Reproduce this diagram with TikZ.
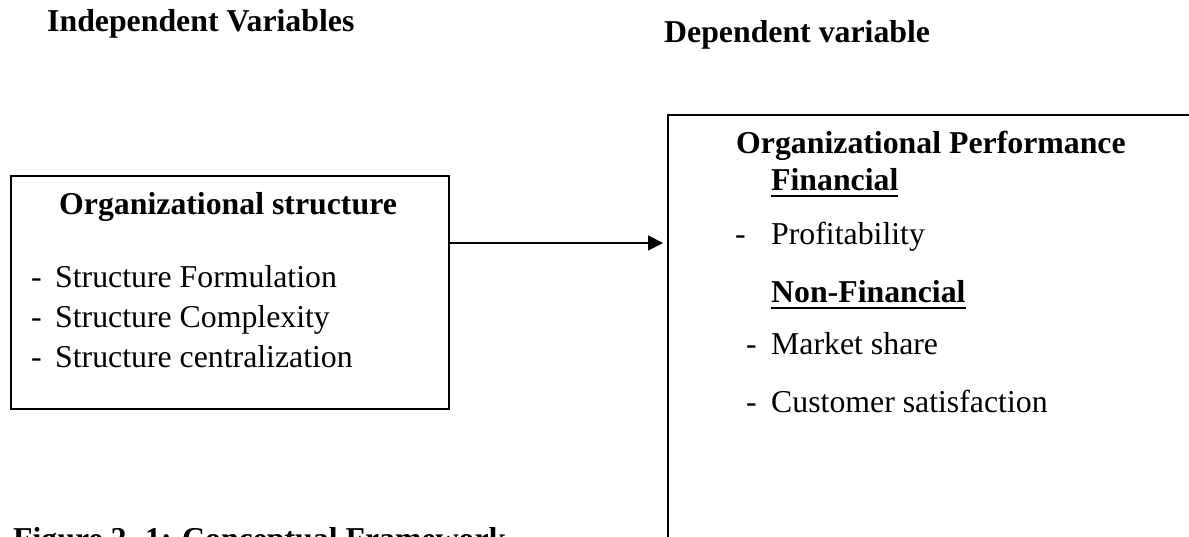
\documentclass[tikz,border=0pt]{standalone}
\usepackage{fontspec}
\setmainfont{Liberation Serif}
\usetikzlibrary{arrows.meta}
\newcommand\myul[1]{\setbox0\hbox{#1}\rlap{\rule[-6pt]{\wd0}{2pt}}\box0}
\tikzset{
  txt/.style={anchor=base west, inner sep=0pt, font=\fontsize{31.8}{38}\selectfont},
  btxt/.style={txt, font=\fontsize{31.8}{38}\selectfont\bfseries},
  boxshape/.style={draw, line width=1.8pt, anchor=north west, inner sep=0pt},
  link/.style={line width=1.8pt, -{Triangle[length=15pt,width=15pt]}, shorten >=4pt}
}
\begin{document}
\begin{tikzpicture}[x=1pt,y=-1pt]
\useasboundingbox (0,0) rectangle (1189,537);
\clip (0,0) rectangle (1189,537);
% headers
\node[btxt] (hind) at (47,32) {Independent Variables};
\node[btxt] (hdep) at (664,43) {Dependent variable};
% boxes
\node[boxshape, minimum width=438pt, minimum height=233pt] (lbox) at (10,175) {};
\node[boxshape, minimum width=580pt, minimum height=480pt] (rbox) at (667,114) {};
% left box text
\node[btxt] (ltitle) at (59,215) {Organizational structure};
\node[txt] (l1) at (31,288) {\makebox[24pt][l]{-}Structure Formulation};
\node[txt] (l2) at (31,327) {\makebox[24pt][l]{-}Structure Complexity};
\node[txt] (l3) at (31,367) {\makebox[24pt][l]{-}Structure centralization};
% right box text
\node[btxt] (rtitle) at (736,154) {Organizational Performance};
\node[btxt] (fin) at (771,191) {\myul{Financial}};
\node[txt] (r1) at (735,245) {\makebox[36pt][l]{-}Profitability};
\node[btxt] (nfin) at (771,303) {\myul{Non-Financial}};
\node[txt] (r2) at (746,355) {\makebox[25pt][l]{-}Market share};
\node[txt] (r3) at (746,412) {\makebox[25pt][l]{-}Customer satisfaction};
% arrow
\coordinate (astart) at (lbox.east |- 0,243);
\draw[link] (astart) -- (astart -| rbox.west);
% caption
\node[btxt] (cap) at (13,549) {Figure 2. 1: Conceptual Framework};
\end{tikzpicture}
\end{document}
